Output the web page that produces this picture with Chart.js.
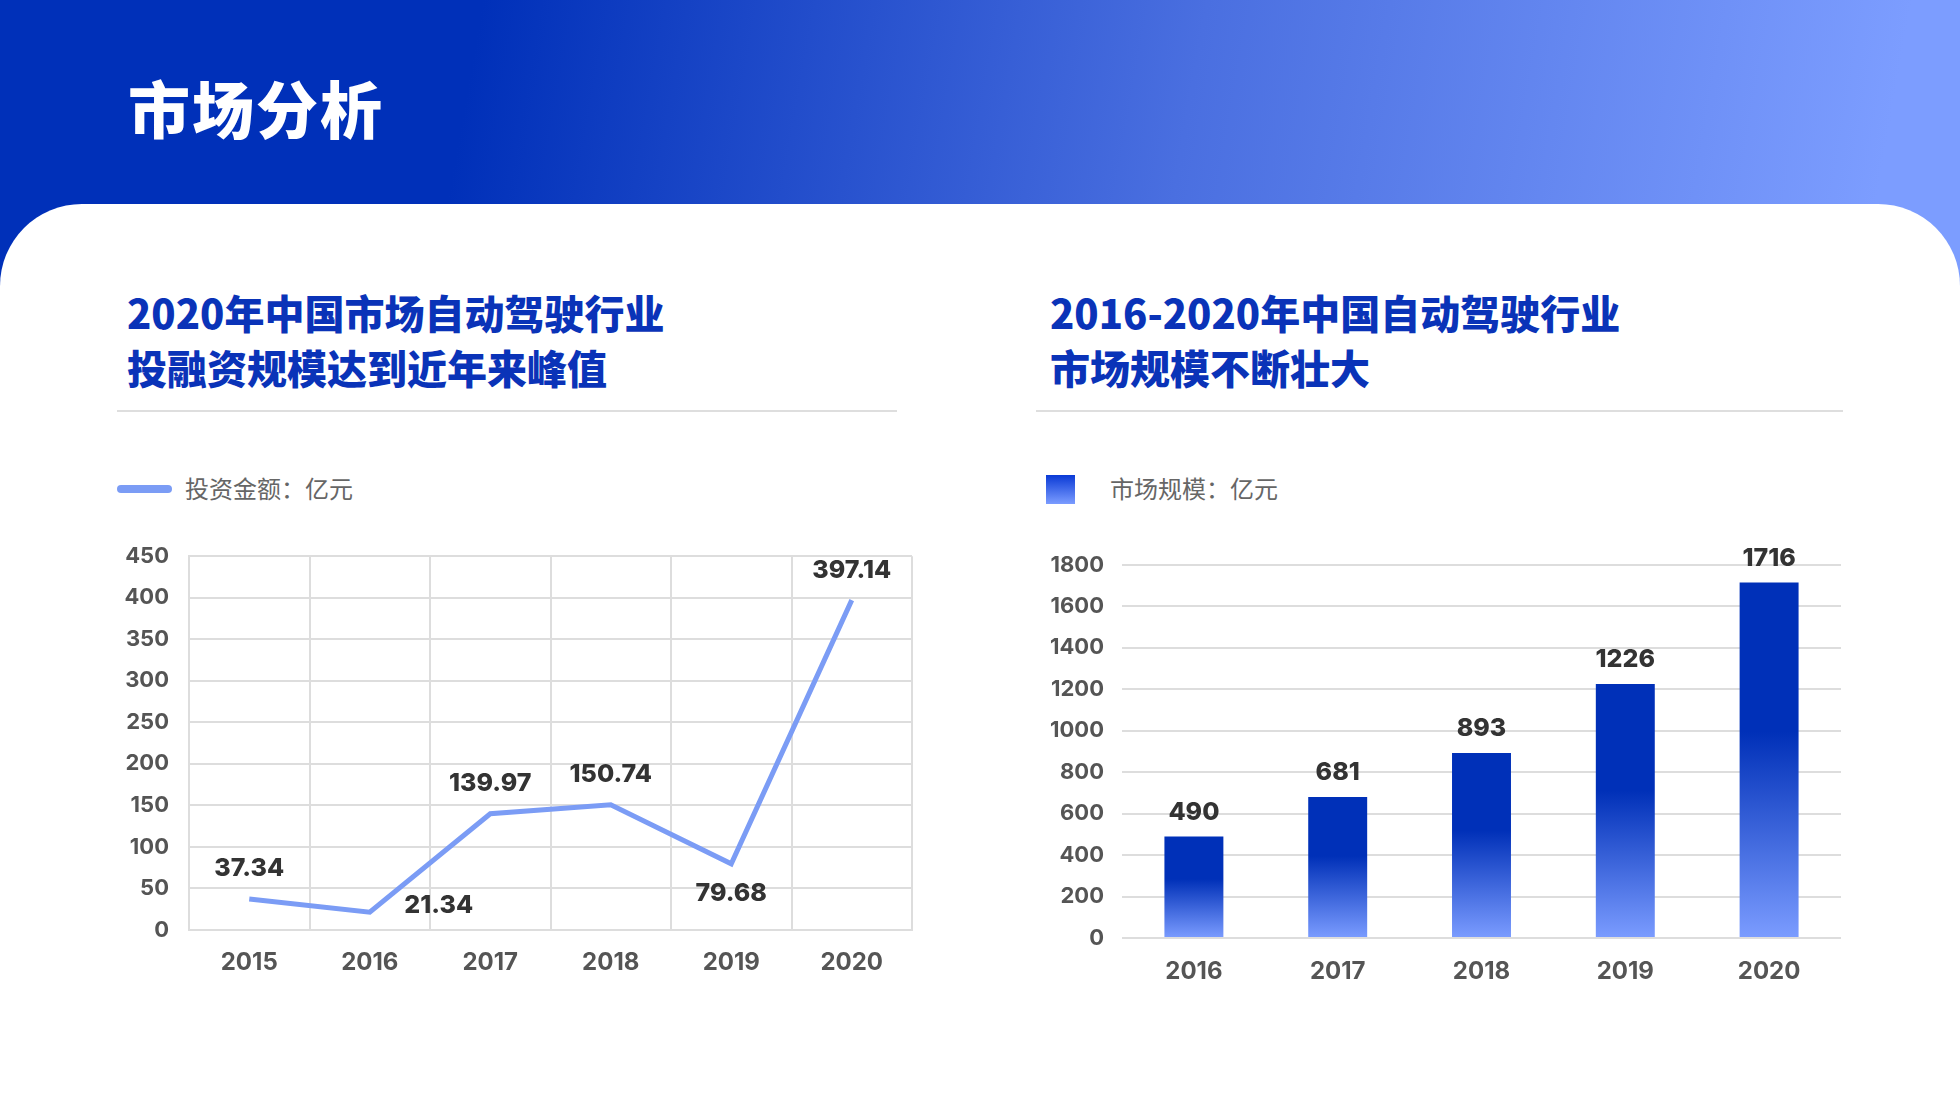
<!DOCTYPE html>
<html lang="zh">
<head>
  <meta charset="UTF-8">
  <title>市场分析</title>
  <script src="https://cdn.jsdelivr.net/npm/chart.js"></script>
  <style>
    html, body { margin: 0; padding: 0; }
    body { width: 1960px; height: 1103px; position: relative; overflow: hidden; background: #fff;
      font-family: "Noto Sans CJK SC", sans-serif; }
    .header { position: absolute; left: 0; top: 0; width: 1960px; height: 300px;
      background: linear-gradient(100deg, #0030b9 0%, #0030b9 24%, #4a6fe0 60%, #7c9dff 95%); }
    .title { position: absolute; left: 128px; top: 62px; color: #fff; font-size: 62px; font-weight: 900; letter-spacing: 2px; }
    .card { position: absolute; left: 0; top: 204px; width: 1960px; height: 899px; background: #fff;
      border-radius: 82px 82px 0 0; }
    .sub { position: absolute; color: #0a33b8; font-size: 40px; font-weight: 900; line-height: 55px; }
    .rule { position: absolute; height: 2px; background: #dedede; }
    .legend { position: absolute; font-size: 24px; color: #666; }
    canvas { position: absolute; }
  </style>
</head>
<body>
  <div class="header"></div>
  <div class="title">市场分析</div>
  <div class="card"></div>

  <div class="sub" style="left:127px; top:285px;">2020年中国市场自动驾驶行业<br>投融资规模达到近年来峰值</div>
  <div class="rule" style="left:117px; top:410px; width:780px;"></div>
  <div class="sub" style="left:1050px; top:285px;">2016-2020年中国自动驾驶行业<br>市场规模不断壮大</div>
  <div class="rule" style="left:1036px; top:410px; width:807px;"></div>

  <div style="position:absolute; left:117px; top:485px; width:55px; height:8px; border-radius:4px; background:#7b9cf5;"></div>
  <div class="legend" style="left:185px; top:470px;">投资金额：亿元</div>
  <div style="position:absolute; left:1046px; top:475px; width:29px; height:29px; background:linear-gradient(#0a3ad6, #7b9cff);"></div>
  <div class="legend" style="left:1110px; top:470px;">市场规模：亿元</div>

  <canvas id="lineChart" width="840" height="470" style="left:100px; top:523px;"></canvas>
  <canvas id="barChart" width="870" height="470" style="left:1030px; top:530px;"></canvas>

  <script>
    // 投融资规模
    const investYears = ['2015', '2016', '2017', '2018', '2019', '2020'];
    const investValues = [37.34, 21.34, 139.97, 150.74, 79.68, 397.14];
    const investLabels = ['37.34', '21.34', '139.97', '150.74', '79.68', '397.14'];
    const investLabelPos = ['above', 'right', 'above', 'above', 'below', 'above'];

    // 市场规模
    const marketYears = ['2016', '2017', '2018', '2019', '2020'];
    const marketValues = [490, 681, 893, 1226, 1716];

    Chart.defaults.font.family = 'Inter, "Noto Sans CJK SC", sans-serif';
    Chart.defaults.animation = false;

    const tickFont = { size: 22, weight: '700' };
    const xFont = { size: 24, weight: '700' };
    const gridColor = '#dddddd';
    const plainTick = v => String(v);

    // 数据标签
    const valueLabels = {
      id: 'valueLabels',
      afterDatasetsDraw(chart, args, opts) {
        const ctx = chart.ctx;
        const meta = chart.getDatasetMeta(0);
        ctx.save();
        ctx.font = '800 25px Inter, sans-serif';
        ctx.fillStyle = '#333';
        ctx.textAlign = 'center';
        ctx.textBaseline = 'middle';
        meta.data.forEach((el, i) => {
          const pos = opts.pos ? opts.pos[i] : 'above';
          let x = el.x, y = el.y - opts.gap;
          if (pos === 'below') y = el.y + opts.gap;
          if (pos === 'right') { x = el.x + 69; y = el.y - 7; }
          ctx.fillText(opts.texts[i], x, y);
        });
        ctx.restore();
      }
    };

    new Chart(document.getElementById('lineChart'), {
      type: 'line',
      data: {
        labels: investYears,
        datasets: [{
          data: investValues,
          borderColor: '#7b9cf5',
          borderWidth: 5,
          pointRadius: 0,
          tension: 0,
          fill: false
        }]
      },
      options: {
        responsive: false,
        layout: { padding: { top: 17, right: 28 } },
        plugins: {
          legend: { display: false },
          tooltip: { enabled: false },
          valueLabels: { texts: investLabels, pos: investLabelPos, gap: 30 }
        },
        scales: {
          x: {
            offset: true,
            grid: { offset: true, color: gridColor, lineWidth: 2, drawTicks: false },
            border: { color: gridColor, width: 2 },
            ticks: { color: '#555', font: xFont, padding: 18 },
            afterFit(s) { s.height = 63; }
          },
          y: {
            min: 0, max: 450,
            ticks: { stepSize: 50, color: '#555', font: tickFont, padding: 20, callback: plainTick },
            grid: { color: gridColor, lineWidth: 2, drawTicks: false },
            border: { color: gridColor, width: 2 },
            afterFit(s) { s.width = 89; }
          }
        }
      },
      plugins: [valueLabels]
    });

    function barGradient(context) {
      const chart = context.chart;
      if (!chart.chartArea) return '#0030b8';
      const y = chart.scales.y;
      const top = y.getPixelForValue(context.raw);
      const base = y.getPixelForValue(0);
      const g = chart.ctx.createLinearGradient(0, top, 0, base);
      g.addColorStop(0, '#0030b8');
      g.addColorStop(0.42, '#0030b8');
      g.addColorStop(1, '#7b9cff');
      return g;
    }

    new Chart(document.getElementById('barChart'), {
      type: 'bar',
      data: {
        labels: marketYears,
        datasets: [{
          data: marketValues,
          backgroundColor: barGradient,
          categoryPercentage: 1,
          barPercentage: 0.41
        }]
      },
      options: {
        responsive: false,
        layout: { padding: { top: 35, right: 59 } },
        plugins: {
          legend: { display: false },
          tooltip: { enabled: false },
          valueLabels: { texts: marketValues.map(String), gap: 24 }
        },
        scales: {
          x: {
            grid: { display: false, drawTicks: false },
            border: { display: false },
            ticks: { color: '#555', font: xFont, padding: 19 },
            afterFit(s) { s.height = 62; }
          },
          y: {
            min: 0, max: 1800,
            ticks: { stepSize: 200, color: '#555', font: tickFont, padding: 18, callback: plainTick },
            grid: { color: gridColor, lineWidth: 2, drawTicks: false },
            border: { display: false },
            afterFit(s) { s.width = 92; }
          }
        }
      },
      plugins: [valueLabels]
    });
  </script>
</body>
</html>
